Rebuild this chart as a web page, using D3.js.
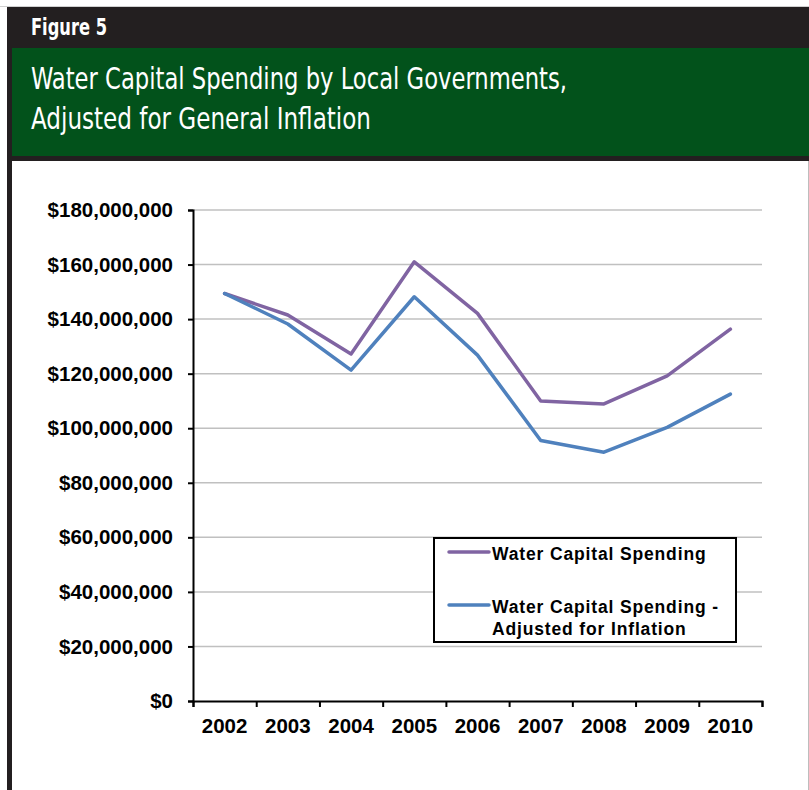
<!DOCTYPE html>
<html>
<head>
<meta charset="utf-8">
<script src="https://cdn.jsdelivr.net/npm/d3@7"></script>
<style>
  html, body { margin: 0; padding: 0; background: #fff; }
  svg { display: block; }
</style>
</head>
<body>
<svg id="chart" width="809" height="790"></svg>
<script>
const years = ["2002","2003","2004","2005","2006","2007","2008","2009","2010"];
const spending = [149.4e6, 141.5e6, 127.2e6, 161.0e6, 142.1e6, 110.0e6, 108.9e6, 119.2e6, 136.3e6];
const adjusted = [149.4e6, 138.2e6, 121.3e6, 148.2e6, 126.8e6, 95.5e6, 91.2e6, 100.3e6, 112.5e6];
const yTicks = [0, 20e6, 40e6, 60e6, 80e6, 100e6, 120e6, 140e6, 160e6, 180e6];
const seriesNames = ["Water Capital Spending", "Water Capital Spending -|Adjusted for Inflation"];
const seriesColors = ["#8064a2", "#4f81bd"];
const figureLabel = "Figure 5";
const titleLines = ["Water Capital Spending by Local Governments,", "Adjusted for General Inflation"];

(function () {
const svg = d3.select("#chart");

// frame
svg.append("rect").attr("x", 0).attr("y", 6).attr("width", 809).attr("height", 1).attr("fill", "#d0d0d0");
svg.append("rect").attr("x", 7).attr("y", 7).attr("width", 802).attr("height", 154).attr("fill", "#231f20");
svg.append("rect").attr("x", 12).attr("y", 48).attr("width", 797).attr("height", 108).attr("fill", "#02521b");
svg.append("rect").attr("x", 7).attr("y", 161).attr("width", 5).attr("height", 629).attr("fill", "#231f20");
svg.append("rect").attr("x", 808).attr("y", 161).attr("width", 1).attr("height", 629).attr("fill", "#bdbdbd");

const condensed = "'Liberation Sans Narrow', 'Arial Narrow', 'DejaVu Sans Condensed', sans-serif";
svg.append("text").attr("x", 31).attr("y", 35)
  .attr("font-family", condensed).attr("font-weight", "bold").attr("font-size", 23)
  .attr("fill", "#fff").attr("textLength", 76).attr("lengthAdjust", "spacingAndGlyphs")
  .text(figureLabel);
const titleWidths = [536, 340];
titleLines.forEach((t, i) => {
  svg.append("text").attr("x", 31).attr("y", 89 + i * 40)
    .attr("font-family", condensed).attr("font-size", 31)
    .attr("fill", "#fff").attr("textLength", titleWidths[i]).attr("lengthAdjust", "spacingAndGlyphs")
    .text(t);
});

// plot
const pLeft = 193, pRight = 762, pTop = 210, pBottom = 701;
const x = d3.scaleBand().domain(years).range([pLeft, pRight]).padding(0);
const xEdge = d3.scaleLinear().domain([0, years.length]).range([pLeft, pRight]);
const y = d3.scaleLinear().domain([0, 180e6]).range([pBottom, pTop]);

const fontMain = "'Liberation Sans', Arial, sans-serif";

// gridlines
svg.append("g").selectAll("line").data(yTicks.filter(d => d > 0)).join("line")
  .attr("x1", pLeft).attr("x2", pRight)
  .attr("y1", d => y(d)).attr("y2", d => y(d))
  .attr("stroke", "#c0c0c0").attr("stroke-width", 1.5);

// y axis
const yAxis = svg.append("g").attr("transform", `translate(${pLeft},0)`)
  .call(d3.axisLeft(y).tickValues(yTicks).tickSize(5).tickPadding(15).tickFormat(d3.format("$,.0f")));
yAxis.select(".domain").attr("stroke", "#000").attr("stroke-width", 2);
yAxis.selectAll(".tick line").attr("stroke", "#000").attr("stroke-width", 2);
yAxis.selectAll("text").attr("font-family", fontMain).attr("font-weight", "bold")
  .attr("font-size", 20.5).attr("fill", "#000");

// x axis ticks at boundaries
const xTicksAxis = svg.append("g").attr("transform", `translate(0,${pBottom})`)
  .call(d3.axisBottom(xEdge).tickValues(d3.range(years.length + 1)).tickSize(6).tickFormat(""));
xTicksAxis.select(".domain").attr("stroke", "#000").attr("stroke-width", 2);
xTicksAxis.selectAll(".tick line").attr("stroke", "#000").attr("stroke-width", 2);

const xLabels = svg.append("g").attr("transform", `translate(0,${pBottom})`)
  .call(d3.axisBottom(x).tickSize(0).tickPadding(17));
xLabels.select(".domain").remove();
xLabels.selectAll("text").attr("font-family", fontMain).attr("font-weight", "bold")
  .attr("font-size", 20.5).attr("fill", "#000");

// lines
const line = d3.line().x((d, i) => x(years[i]) + x.bandwidth() / 2).y(d => y(d));
[spending, adjusted].forEach((s, i) => {
  svg.append("path").datum(s).attr("d", line)
    .attr("fill", "none").attr("stroke", seriesColors[i]).attr("stroke-width", 3.5)
    .attr("stroke-linejoin", "round").attr("stroke-linecap", "round");
});

// legend
const lg = svg.append("g");
lg.append("rect").attr("x", 434).attr("y", 538).attr("width", 302).attr("height", 104)
  .attr("fill", "#fff").attr("stroke", "#000").attr("stroke-width", 2);
const rowY = [552, 605];
seriesNames.forEach((name, i) => {
  lg.append("line").attr("x1", 449).attr("x2", 489).attr("y1", rowY[i]).attr("y2", rowY[i])
    .attr("stroke", seriesColors[i]).attr("stroke-width", 3.5).attr("stroke-linecap", "round");
  const parts = name.split("|");
  parts.forEach((p, j) => {
    lg.append("text").attr("x", 492).attr("y", rowY[i] + 8 + j * 21.5)
      .attr("font-family", fontMain).attr("font-weight", "bold").attr("font-size", 17.5)
      .attr("letter-spacing", 0.85).attr("fill", "#000").text(p);
  });
});
})();
</script>
</body>
</html>
